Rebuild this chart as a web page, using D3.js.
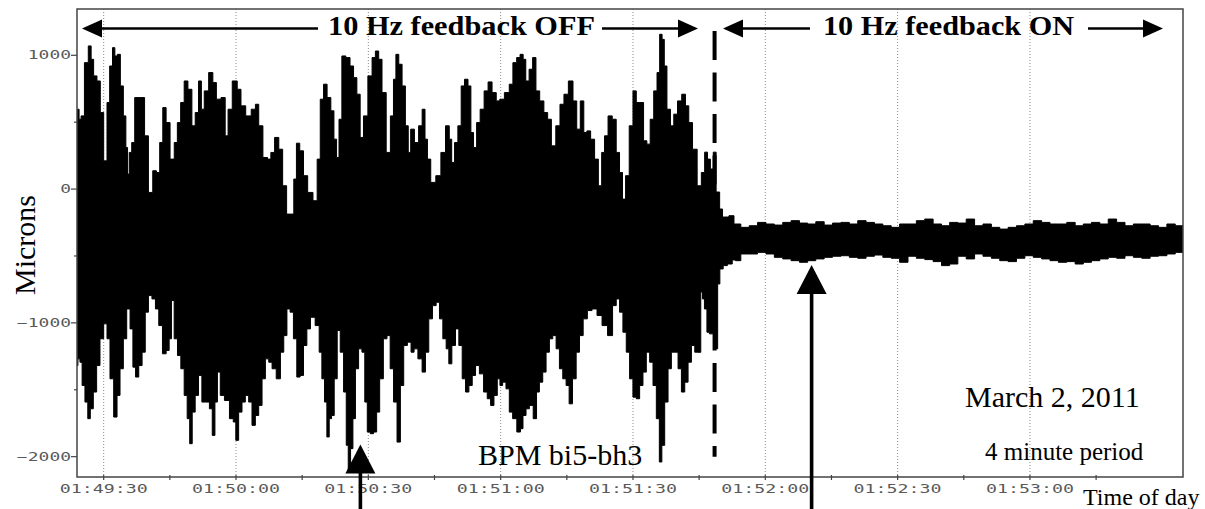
<!DOCTYPE html>
<html><head><meta charset="utf-8">
<script src="https://cdn.jsdelivr.net/npm/d3@7"></script>
<style>body{margin:0;background:#fff}svg{display:block}</style>
</head><body>
<svg id="c" width="1205" height="509"></svg>
<script>
// ---------- DATA (seconds after 01:49:30, microns) ----------
// upper envelope of the BPM signal, feedback OFF (and switch-over)
const offUpper = [[-6.07,572],[-5.77,597],[-5.39,522],[-4.86,547],[-3.87,945],[-3.11,1070],[-2.58,970],[-1.98,846],[-1.07,808],[-0.46,572],[0.45,211],[1.05,647],[1.66,920],[2.34,1057],[2.72,995],[3.48,1007],[4.08,771],[4.84,547],[5.22,311],[5.60,112],[5.98,274],[6.73,348],[7.34,684],[9.0,684],[9.54,398],[10.75,-25],[11.5,137],[12.4,124],[13.0,348],[13.8,609],[14.5,497],[15.6,224],[16.4,348],[17.0,497],[17.9,647],[18.6,808],[19.6,746],[20.4,473],[21.1,572],[21.9,808],[22.4,597],[23.2,734],[24.4,871],[25.1,796],[26.0,672],[27.2,684],[27.9,398],[28.5,597],[29.8,808],[30.75,746],[31.5,622],[32.9,547],[34.0,597],[34.8,634],[35.5,473],[36.7,236],[37.6,224],[38.2,274],[39.3,386],[40.1,298],[41.05,25],
[41.9,-187],[42.8,-187],[43.4,75],[44.0,343],[44.9,286],[45.7,100],[46.8,-25],[48.1,-87],[48.7,224],[49.5,672],[50.2,784],[51.1,684],[51.9,585],[52.5,373],[53.1,236],[53.6,522],[54.4,995],[55.4,983],[56.3,920],[57.0,833],[57.8,709],[58.5,386],[59.3,547],[60.5,846],[61.2,983],[62.0,1032],[62.7,970],[63.5,721],[64.6,274],[65.4,547],[66.0,821],[66.5,1007],[67.3,933],[68.0,771],[68.8,473],[69.3,274],[69.9,448],[71.0,348],[71.8,473],[72.6,597],[73.1,373],[73.7,224],[74.6,50],[76.0,100],[76.9,274],[78.1,473],[78.6,373],[79.2,199],[79.9,348],[80.7,473],[81.4,771],[82.2,821],[83.0,771],[83.5,423],[84.2,311],[84.9,497],[85.8,597],[86.7,734],[87.6,801],[88.5,721],[89.5,659],
[90.1,672],[91.6,721],[92.3,784],[93.25,945],[94.0,983],[94.8,1007],[95.4,970],[96.0,808],[96.9,896],[97.6,983],[98.4,734],[99.3,659],[100.3,572],[101.0,522],[102.0,323],[103.0,473],[103.9,634],[104.8,709],[105.9,808],[106.9,659],[107.6,448],[108.5,659],[109.2,423],[109.9,435],[110.9,373],[111.7,224],[112.6,25],[113.2,274],[113.9,398],[114.8,547],[115.8,522],[116.6,274],[117.3,124],[117.95,-75],[118.7,100],[119.6,473],[120.4,734],[121.1,647],[122.0,647],[122.8,361],[123.5,336],[124.3,522],[125.1,734],[125.8,871],[126.3,1157],[126.9,1119],[127.3,920],[128.1,597],[128.9,473],[129.6,560],[130.6,659],[131.5,709],[132.3,622],[133.0,497],[134.0,298],[135.1,25],
[135.9,124],[136.6,276],[137.2,224],[137.9,150],[138.5,276],[139.2,-22],[140.1,-149],[140.5,-209],[141.2,-209],[142.3,-199]];

// lower envelope, feedback OFF (and switch-over)
const offLower = [[-6.07,-1319],[-5.61,-1269],[-5.16,-1294],[-4.63,-1468],[-3.87,-1592],[-3.34,-1716],[-2.73,-1642],[-1.98,-1517],[-1.22,-1319],[-0.46,-1119],[0.45,-1007],[1.05,-1119],[1.81,-1418],[2.72,-1704],[3.33,-1542],[4.08,-1343],[4.84,-1119],[5.60,-896],[6.36,-1045],[6.89,-1331],[7.57,-1405],[8.33,-1319],[9.08,-1219],[9.77,-920],[10.52,-796],[11.36,-821],[12.11,-896],[12.87,-1020],[13.78,-1231],[14.54,-1206],[15.14,-1119],[15.6,-833],[16.36,-1119],[17.11,-1244],[17.87,-1343],[18.63,-1542],[19.23,-1716],[19.77,-1903],[20.37,-1667],[21.12,-1542],[21.88,-1393],[22.64,-1592],[23.63,-1592],[24.31,-1642],[24.92,-1841],[25.52,-1592],[26.05,-1368],[26.81,-1542],[27.95,-1580],[29.08,-1716],[29.69,-1741],[30.22,-1878],[30.98,-1667],[31.73,-1592],[32.49,-1542],[33.25,-1592],[34.0,-1766],[34.77,-1692],[35.52,-1617],[36.28,-1418],[37.04,-1269],[37.8,-1294],[38.55,-1343],[39.69,-1418],[40.45,-1219],[41.2,-1095],
[41.89,-896],[42.64,-920],[43.4,-1119],[44.16,-1405],[44.9,-1393],[45.7,-1169],[46.43,-1045],[47.34,-958],[48.55,-1020],[49.16,-1219],[49.77,-1418],[50.37,-1592],[50.83,-1853],[51.43,-1716],[51.89,-1692],[52.64,-1418],[53.25,-1057],[54.0,-1219],[54.77,-1517],[55.22,-1915],[55.67,-2114],[56.28,-1940],[56.73,-1716],[57.42,-1343],[58.17,-1194],[58.93,-1219],[59.46,-1592],[60.07,-1816],[60.8,-1828],[61.58,-1816],[62.19,-1667],[62.95,-1418],[63.86,-1119],[64.6,-1095],[65.3,-1343],[66.13,-1592],[66.89,-1891],[67.64,-1468],[68.4,-1169],[69.3,-1144],[70.07,-1219],[70.67,-1194],[71.81,-1269],[72.57,-1368],[73.33,-1219],[74.08,-970],[75.0,-871],[75.75,-846],[76.51,-970],[77.27,-1119],[78.02,-1194],[78.48,-1306],[79.39,-1169],[80.14,-1045],[80.9,-1169],[81.66,-1418],[82.42,-1517],[83.18,-1468],[83.93,-1393],[84.69,-1319],[85.67,-1381],[86.58,-1517],[87.34,-1567],[88.1,-1617],[88.86,-1542],[89.61,-1418],
[90.07,-1468],[90.83,-1443],[91.58,-1493],[92.34,-1667],[93.1,-1716],[94.23,-1816],[94.75,-1791],[95.37,-1692],[96.13,-1642],[96.89,-1617],[97.87,-1716],[98.4,-1517],[99.16,-1443],[99.92,-1368],[100.67,-1219],[101.43,-1119],[102.19,-1095],[102.95,-1194],[103.7,-1343],[104.46,-1418],[105.22,-1468],[105.83,-1605],[106.74,-1418],[107.5,-1219],[108.25,-1095],[109.16,-970],[110.15,-908],[111.28,-896],[112.42,-945],[113.56,-1020],[114.92,-1095],[115.83,-871],[116.58,-821],[117.34,-920],[118.1,-1070],[118.86,-1219],[119.61,-1418],[120.37,-1555],[121.13,-1567],[121.89,-1468],[122.64,-1368],[123.4,-1219],[124.16,-1294],[124.92,-1468],[125.67,-1716],[126.28,-2040],[126.81,-1915],[127.57,-1592],[128.33,-1343],[129.08,-1219],[129.84,-1219],[130.6,-1343],[131.36,-1517],[132.11,-1443],[132.87,-1294],[133.63,-1169],[134.39,-1219],[135.14,-1220],
[135.6,-769],[135.9,-821],[136.5,-896],[137.03,-1070],[137.64,-1082],[138.2,-1082],[138.7,-1194],[139.1,-1194],[139.3,-709],[140.1,-597],[140.8,-572],[142.0,-560],[143.0,-530]];

// feedback ON band: [seconds, upper, lower]
const onBand = [[143.5,-261,-535],[145.4,-286,-485],[147.3,-274,-485],[149.2,-249,-473],[151.1,-261,-485],[153.0,-269,-510],[154.9,-249,-522],[156.8,-236,-535],[158.7,-254,-547],[160.5,-261,-535],[162.4,-244,-522],[164.3,-269,-510],[166.2,-254,-502],[168.1,-249,-498],[170.0,-261,-510],[171.9,-236,-517],[173.8,-249,-502],[175.7,-261,-493],[177.6,-274,-510],[179.5,-286,-517],[181.4,-261,-547],[183.3,-261,-502],[185.2,-236,-517],[187.1,-224,-527],[189.0,-261,-542],[190.9,-274,-572],[192.7,-249,-560],[194.6,-254,-502],[196.5,-224,-522],[198.4,-274,-485],[200.3,-261,-502],[202.2,-286,-517],[204.1,-299,-535],[206.0,-286,-542],[207.9,-274,-517],[209.8,-261,-498],[211.7,-236,-510],[213.6,-249,-522],[215.5,-261,-535],[217.4,-261,-547],[219.3,-249,-542],[221.2,-274,-560],[223.0,-261,-547],[224.9,-249,-535],[226.8,-261,-522],[228.7,-224,-510],[230.6,-249,-517],[232.5,-274,-498],[234.4,-261,-510],[236.3,-261,-517],[238.2,-274,-502],[240.1,-286,-498],[242.0,-261,-485],[243.9,-274,-473],[245.8,-274,-522]];

const xTickLabels = ["01:49:30","01:50:00","01:50:30","01:51:00","01:51:30","01:52:00","01:52:30","01:53:00"];
const xMinorLabels = ["01:49:45","01:50:15","01:50:45","01:51:15","01:51:45","01:52:15","01:52:45","01:53:15"];
const yTickValues = [1000, 0, -1000, -2000];
const yMinorValues = [500, -500, -1500];
const switchTime = "01:51:48.5";     // feedback switched on
const markerTimes = ["01:50:28.2", "01:52:10.5"];
const markerValues = [-1910, -567];

// ---------- SCALES ----------
const base = new Date(2011, 2, 2, 1, 49, 30);
const sec = s => new Date(base.getTime() + s * 1000);
const parseT = str => { const [h, m, s] = str.split(":"); return new Date(2011, 2, 2, +h, +m, 0, Math.round(parseFloat(s) * 1000)); };

const L = 77, R = 1183, T = 9, B = 477;
const x = d3.scaleTime().domain([sec(-6.05), sec(244.7)]).range([L, R]);
const y = d3.scaleLinear().domain([-2152, 1346]).range([B, T]);

const svg = d3.select("#c");
svg.append("rect").attr("width", 1205).attr("height", 509).attr("fill", "#fff");
svg.append("defs").append("clipPath").attr("id", "clip")
  .append("rect").attr("x", L).attr("y", T).attr("width", R - L).attr("height", B - T);

// grid
svg.append("g").selectAll("line").data(xTickLabels).join("line")
  .attr("x1", d => x(parseT(d))).attr("x2", d => x(parseT(d)))
  .attr("y1", T).attr("y2", B)
  .attr("stroke", "#8c8c8c").attr("stroke-width", 1).attr("stroke-dasharray", "1,2");

// signal: one closed band (upper edge forward, lower edge back)
const upperAll = offUpper.concat(onBand.map(d => [d[0], d[1]]));
const lowerAll = offLower.concat(onBand.map(d => [d[0], d[2]]));
const sig = svg.append("g").attr("clip-path", "url(#clip)");
const upLine = d3.line().x(d => x(sec(d[0]))).y(d => y(d[1])).curve(d3.curveStep);
const upPath = upLine(upperAll);
const loPath = upLine(lowerAll.slice().reverse()).replace(/^M/, "L");
sig.append("path").attr("d", upPath + loPath + "Z")
  .attr("fill", "#000").attr("stroke", "#000").attr("stroke-width", 1).attr("stroke-linejoin", "miter");

// frame
svg.append("rect").attr("x", L).attr("y", T).attr("width", R - L).attr("height", B - T)
  .attr("fill", "none").attr("stroke", "#444").attr("stroke-width", 1.5);

// axes ticks
const tickCol = "#444";
const yax = svg.append("g");
yax.selectAll("line.maj").data(yTickValues).join("line")
  .attr("x1", L - 6).attr("x2", L).attr("y1", d => y(d)).attr("y2", d => y(d))
  .attr("stroke", tickCol).attr("stroke-width", 1.2);
yax.selectAll("line.min").data(yMinorValues).join("line")
  .attr("x1", L - 3).attr("x2", L).attr("y1", d => y(d)).attr("y2", d => y(d))
  .attr("stroke", tickCol).attr("stroke-width", 1.2);
yax.selectAll("text").data(yTickValues).join("text")
  .attr("x", 71).attr("y", d => y(d) + 4.2)
  .attr("text-anchor", "end")
  .attr("textLength", d => String(d).length * 10.8)
  .attr("lengthAdjust", "spacingAndGlyphs")
  .attr("font-family", "DejaVu Sans Mono").attr("font-size", 11.5).attr("fill", "#5a5a5a")
  .text(d => d === 0 ? "0" : (d < 0 ? "\u2212" + Math.abs(d) : String(d)));

const xax = svg.append("g");
xax.selectAll("line").data(xTickLabels.concat(xMinorLabels)).join("line")
  .attr("x1", d => x(parseT(d))).attr("x2", d => x(parseT(d)))
  .attr("y1", B - 2).attr("y2", B + 3)
  .attr("stroke", tickCol).attr("stroke-width", 1.2);
xax.selectAll("text").data(xTickLabels).join("text")
  .attr("x", d => x(parseT(d))).attr("y", 493)
  .attr("text-anchor", "middle")
  .attr("textLength", 88).attr("lengthAdjust", "spacingAndGlyphs")
  .attr("font-family", "DejaVu Sans Mono").attr("font-size", 11.5).attr("fill", "#5a5a5a")
  .text(d => d);

// dashed switch line
const xs = x(parseT(switchTime));
svg.append("line").attr("x1", xs).attr("x2", xs).attr("y1", 31).attr("y2", y(-2000))
  .attr("stroke", "#000").attr("stroke-width", 4).attr("stroke-dasharray", "29,12.5");

// top arrows
const ay = 28.5;
const arrowG = svg.append("g").attr("stroke", "#000").attr("fill", "#000");
function hArrow(x1, x2, tipRight) {
  const tip = tipRight ? x2 : x1;
  const back = tipRight ? tip - 20 : tip + 20;
  arrowG.append("line").attr("x1", tipRight ? x1 : back - 1).attr("x2", tipRight ? back + 1 : x2)
    .attr("y1", ay).attr("y2", ay).attr("stroke-width", 2.4);
  arrowG.append("path").attr("stroke", "none")
    .attr("d", `M${tip},${ay} L${back},${ay - 9} L${back},${ay + 9} Z`);
}
hArrow(82, 318, false);
hArrow(602, 698, true);
hArrow(723, 810, false);
hArrow(1088, 1163, true);

// up arrows (markers)
markerTimes.forEach((t, i) => {
  const mx = x(parseT(t)), my = y(markerValues[i]);
  arrowG.append("path").attr("stroke", "none")
    .attr("d", `M${mx},${my} L${mx - 15},${my + 29} L${mx + 15},${my + 29} Z`);
  arrowG.append("line").attr("x1", mx).attr("x2", mx).attr("y1", my + 28).attr("y2", 509)
    .attr("stroke-width", 3.6);
});

// texts
const serif = "Liberation Serif, Times New Roman, serif";
svg.append("text").attr("x", 328).attr("y", 35).attr("textLength", 267).attr("lengthAdjust", "spacingAndGlyphs")
  .attr("font-family", serif).attr("font-weight", "bold").attr("font-size", 28).text("10 Hz feedback OFF");
svg.append("text").attr("x", 823).attr("y", 35).attr("textLength", 251).attr("lengthAdjust", "spacingAndGlyphs")
  .attr("font-family", serif).attr("font-weight", "bold").attr("font-size", 28).text("10 Hz feedback ON");
svg.append("text").attr("transform", "translate(35,245) rotate(-90)").attr("text-anchor", "middle")
  .attr("font-family", serif).attr("font-size", 30).text("Microns");
svg.append("text").attr("x", 478).attr("y", 465).attr("font-family", serif).attr("font-size", 30).text("BPM bi5-bh3");
svg.append("text").attr("x", 965).attr("y", 407).attr("font-family", serif).attr("font-size", 30).text("March 2, 2011");
svg.append("text").attr("x", 985).attr("y", 460).attr("font-family", serif).attr("font-size", 25).text("4 minute period");
svg.append("text").attr("x", 1083).attr("y", 505).attr("font-family", serif).attr("font-size", 24).text("Time of day");
</script>
</body></html>
